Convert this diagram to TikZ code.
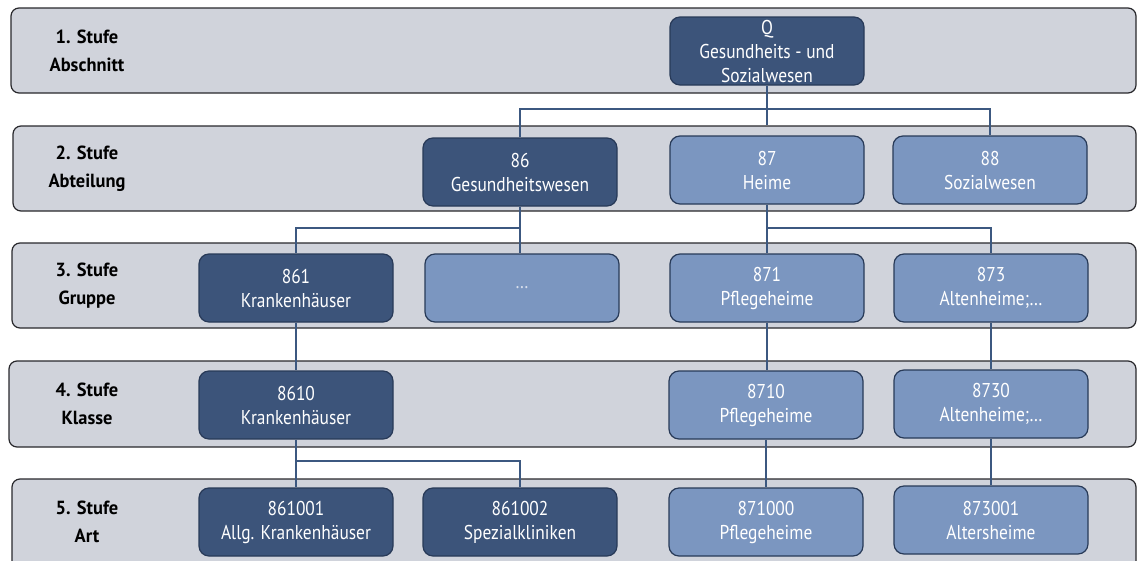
\documentclass[tikz,border=0pt]{standalone}
\usepackage{fontspec}
\setmainfont{PT Sans}
\newfontfamily\boxfont{PT Sans}[FakeStretch=0.87]
\newfontfamily\lvlfont{PT Sans}[FakeStretch=0.97]
\definecolor{bandfill}{RGB}{208,211,219}
\definecolor{bandline}{RGB}{40,40,44}
\definecolor{darkbox}{RGB}{60,84,122}
\definecolor{lightbox}{RGB}{123,150,192}
\definecolor{boxline}{RGB}{40,58,88}
\definecolor{conn}{RGB}{60,88,128}
\definecolor{dimtext}{RGB}{215,222,235}
\begin{document}
\begin{tikzpicture}[x=1pt,y=-1pt,
  band/.style={draw=bandline, line width=1.2pt, fill=bandfill, rounded corners=8pt, inner sep=0pt},
  lvl/.style={font=\lvlfont\fontsize{19}{28}\selectfont\bfseries, align=center, text=black},
  cbox/.style={draw=boxline, line width=1.2pt, rounded corners=10pt, minimum width=194pt, minimum height=68pt, inner sep=0pt, align=center, text=white, font=\boxfont\fontsize{20}{24}\selectfont},
  dbox/.style={cbox, fill=darkbox},
  lbox/.style={cbox, fill=lightbox},
  link/.style={draw=conn, line width=2pt}
]
\clip (0,0) rectangle (1138,560);
% bands
\node[band, minimum width=1125pt, minimum height=85pt] (b1) at (573.5,50.5) {};
\node[band, minimum width=1123pt, minimum height=85pt] (b2) at (574.5,168.5) {};
\node[band, minimum width=1124pt, minimum height=85pt] (b3) at (574,285.5) {};
\node[band, minimum width=1127pt, minimum height=86pt] (b4) at (572.5,404) {};
\node[band, minimum width=1124pt, minimum height=90pt] (b5) at (574,524) {};
% level labels
\node[lvl] (l1) at (87,51) {1. Stufe\\Abschnitt};
\node[lvl] (l2) at (87,169) {2. Stufe\\Abteilung};
\node[lvl] (l3) at (87,286) {3. Stufe\\Gruppe};
\node[lvl] (l4) at (87,404) {4. Stufe\\Klasse};
\node[lvl] (l5) at (87,522) {5. Stufe\\Art};
% boxes
\node[dbox] (q) at (767,51) {Q\\Gesundheits - und\\Sozialwesen};
\node[dbox] (n86) at (520,172) {86\\Gesundheitswesen};
\node[lbox] (n87) at (767,170) {87\\Heime};
\node[lbox] (n88) at (990,170) {88\\Sozialwesen};
\node[dbox] (n861) at (296,288) {861\\Krankenhäuser};
\node[lbox, text=dimtext] (ndots) at (522,288) {…};
\node[lbox] (n871) at (767,288) {871\\Pflegeheime};
\node[lbox] (n873) at (991,288) {873\\Altenheime;…};
\node[dbox] (n8610) at (296,405) {8610\\Krankenhäuser};
\node[lbox] (n8710) at (766,405) {8710\\Pflegeheime};
\node[lbox] (n8730) at (991,404) {8730\\Altenheime;…};
\node[dbox] (n861001) at (296,522) {861001\\Allg. Krankenhäuser};
\node[dbox] (n861002) at (520,522) {861002\\Spezialkliniken};
\node[lbox] (n871000) at (766,522) {871000\\Pflegeheime};
\node[lbox] (n873001) at (991,520) {873001\\Altersheime};
% helper rails
\coordinate (h1) at (0,109);
\coordinate (h2) at (0,228);
\coordinate (h4) at (0,461);
% connectors
\draw[link] (q.south) -- (q.south |- b2.north);
\draw[link] (n86.north) -- (n86.north |- h1) -| (n88.north);
\draw[link] (n86.south) -- (n86.south |- ndots.north);
\draw[link] (n86.south |- h2) -| (n861.north);
\draw[link] (n87.south) -- (n87.south |- n871.north);
\draw[link] (n87.south |- h2) -| (n873.north);
\draw[link] (n861.south) -- (n861.south |- n8610.north);
\draw[link] (n871.south) -- (n871.south |- n8710.north);
\draw[link] (n873.south) -- (n8730.north);
\draw[link] (n8610.south) -- (n8610.south |- n861001.north);
\draw[link] (n8610.south |- h4) -| (n861002.north);
\draw[link] (n8710.south) -- (n8710.south |- n871000.north);
\draw[link] (n8730.south) -- (n873001.north);
\end{tikzpicture}
\end{document}
